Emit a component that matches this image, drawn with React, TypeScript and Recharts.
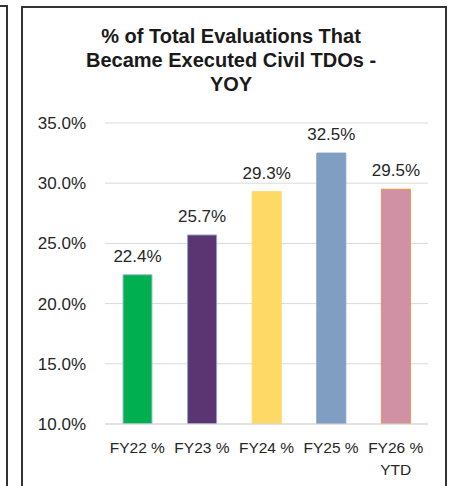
import { Bar, BarChart, CartesianGrid, Cell, LabelList, XAxis, YAxis } from "recharts";

const categories = ["FY22 %", "FY23 %", "FY24 %", "FY25 %", "FY26 %\nYTD"];
const values = [22.4, 25.7, 29.3, 32.5, 29.5];
const yTicks = [10, 15, 20, 25, 30, 35];

const fills = ["#00B050", "#5B3571", "#FFD966", "#7F9EC2", "#D091A4"];
const strokes = ["#A9BBD3", "#8DA2C8", "#FFD966", "#7F9EC2", "#E8954A"];

const data = categories.map((name, i) => ({ name, value: values[i] }));

const FONT = "'Liberation Sans', Arial, sans-serif";
const TEXT = "#262626";

function XTick({ x, y, payload }: any) {
  const lines = String(payload.value).split("\n");
  return (
    <text x={x} y={y} textAnchor="middle" fill={TEXT} fontSize={15.5} fontFamily={FONT}>
      {lines.map((l, i) => (
        <tspan key={i} x={x} dy={i === 0 ? 29 : 22}>
          {l}
        </tspan>
      ))}
    </text>
  );
}

function YTick({ x, y, payload }: any) {
  return (
    <text x={x} y={y} dy={6} textAnchor="end" fill={TEXT} fontSize={17} fontFamily={FONT}>
      {`${Number(payload.value).toFixed(1)}%`}
    </text>
  );
}

function ValueLabel({ x, y, width, value }: any) {
  return (
    <text x={x + width / 2} y={y - 13} textAnchor="middle" fill={TEXT} fontSize={17} fontFamily={FONT}>
      {`${Number(value).toFixed(1)}%`}
    </text>
  );
}

export default function App() {
  return (
    <div style={{ position: "absolute", left: 0, top: 0, width: 452, height: 486, overflow: "hidden", background: "#fff" }}>
      <div style={{ position: "absolute", left: 0, top: 5, width: 7, borderTop: "2px solid #333" }} />
      <div style={{ position: "absolute", left: 6, top: 5, height: 490, borderLeft: "2px solid #333" }} />
      <div
        style={{
          position: "absolute",
          left: 21,
          top: 6,
          width: 422,
          height: 500,
          border: "2px solid #333",
        }}
      />
      <div
        style={{
          position: "absolute",
          left: 22,
          top: 24,
          width: 418,
          textAlign: "center",
          fontFamily: FONT,
          fontWeight: "bold",
          fontSize: 20,
          lineHeight: "24px",
          color: "#1a1a1a",
        }}
      >
        % of Total Evaluations That
        <br />
        Became Executed Civil TDOs -
        <br />
        YOY
      </div>
      <div style={{ position: "absolute", left: 0, top: 0 }}>
        <BarChart
          width={452}
          height={486}
          data={data}
          margin={{ top: 123, right: 24, bottom: 0, left: 0 }}
          barSize={29}
        >
          <CartesianGrid vertical={false} stroke="#D9D9D9" />
          <XAxis
            dataKey="name"
            height={62}
            axisLine={{ stroke: "#D9D9D9" }}
            tickLine={false}
            tickSize={0}
            tickMargin={0}
            interval={0}
            tick={<XTick />}
          />
          <YAxis
            width={105}
            domain={[10, 35]}
            ticks={yTicks}
            allowDataOverflow
            axisLine={false}
            tickLine={false}
            tickSize={0}
            tickMargin={19}
            tick={<YTick />}
          />
          <Bar dataKey="value" isAnimationActive={false} strokeWidth={1}>
            {data.map((d, i) => (
              <Cell key={d.name} fill={fills[i]} stroke={strokes[i]} />
            ))}
            <LabelList dataKey="value" content={<ValueLabel />} />
          </Bar>
        </BarChart>
      </div>
    </div>
  );
}
